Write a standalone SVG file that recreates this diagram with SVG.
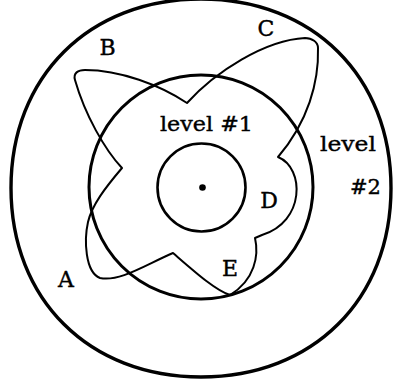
<svg xmlns="http://www.w3.org/2000/svg" width="399" height="379" viewBox="0 0 399 379">
<style>
.ln{fill:none;stroke:#000;stroke-linejoin:round;stroke-linecap:round}
.t{font-family:"DejaVu Serif","Liberation Serif",serif;fill:#000;stroke:#000;stroke-width:0.4}
.cap{font-size:22px;text-anchor:middle}
.lv{font-size:21px}
</style>
<rect width="399" height="379" fill="#fff"/>
<g id="outer">
<path class="ln" stroke-width="3.4" d="M11,188 C11,76.5 89,-1 201,-1 C313,-1 391,76.5 391,188 C391,299.5 313,377 201,377 C89,377 11,299.5 11,188 Z"/>
</g>
<g id="middle">
<circle class="ln" stroke-width="3" cx="201" cy="187" r="112"/>
</g>
<g id="inner">
<circle class="ln" stroke-width="2.6" cx="201.5" cy="187.5" r="44"/>
<circle cx="202.5" cy="187.5" r="3.3" fill="#000"/>
</g>
<g id="curve">
<path class="ln" stroke-width="2" d="M187,103 C215,72 265,40 305,38 C312,38 318,42 318,48 C319,82 308,122 278,157 C305,168 305,222 262,235 L255,238 C259,255 255,280 230,295 C215,290 195,272 173,253 C145,265 120,282 100,278 C85,272 84,240 88,222 C92,205 105,188 122,168 C105,150 85,115 75,80 C73,73 78,70 85,70 C120,70 160,85 187,103 Z"/>
</g>
<g id="labels">
<text class="t cap" x="107.5" y="55">B</text>
<text class="t cap" x="266" y="36">C</text>
<text class="t cap" x="269" y="208">D</text>
<text class="t cap" x="230" y="276">E</text>
<text class="t cap" x="66" y="287">A</text>
<text class="t lv" x="160" y="131" textLength="93" lengthAdjust="spacingAndGlyphs">level #1</text>
<text class="t lv" x="320" y="151" textLength="56" lengthAdjust="spacingAndGlyphs">level</text>
<text class="t lv" x="350" y="194" textLength="31" lengthAdjust="spacingAndGlyphs">#2</text>
</g>
</svg>
